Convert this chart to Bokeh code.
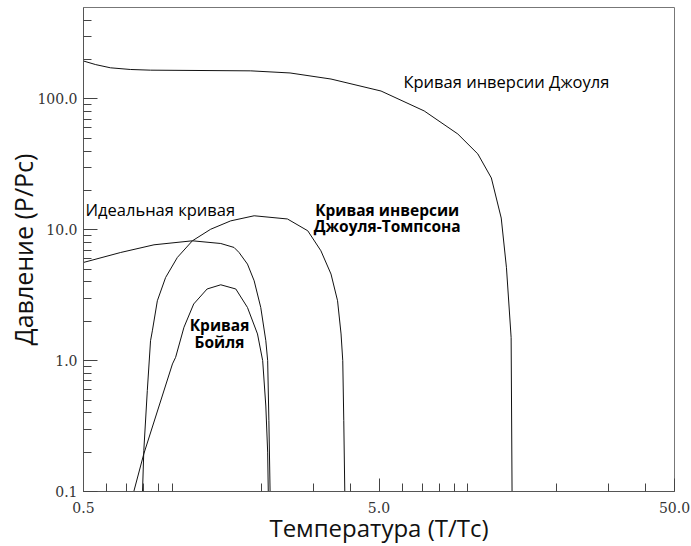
from bokeh.plotting import figure
from bokeh.models import FixedTicker, PrintfTickFormatter, ColumnDataSource
from bokeh.core.properties import value
from bokeh.embed import file_html
from bokeh.resources import INLINE

# ---- data (T/Tc, P/Pc) ----
joule_T = [0.5, 0.55, 0.617, 0.72, 0.843, 1.84, 2.5, 3.44, 5.08, 7.11, 9.24, 10.8, 12.0, 12.96, 13.5, 14.0, 14.1]
joule_P = [195, 183, 173, 168, 166, 164, 158, 142, 115, 81, 54, 38, 24.9, 12.3, 5.13, 1.5, 0.1]

jt_T = [0.792, 0.80, 0.822, 0.843, 0.855, 0.889, 0.948, 1.039, 1.168, 1.347, 1.574, 1.89, 2.45, 2.87, 3.18, 3.44, 3.62, 3.72, 3.77, 3.80, 3.83]
jt_P = [0.1, 0.206, 0.59, 1.42, 1.69, 2.87, 4.32, 6.15, 8.24, 10.1, 11.7, 12.8, 12.1, 9.83, 6.91, 4.59, 2.87, 1.60, 1.0, 0.348, 0.1]

ideal_T = [0.5, 0.668, 0.866, 1.168, 1.457, 1.616, 1.68, 1.794, 1.89, 1.99, 2.07, 2.10, 2.12, 2.14]
ideal_P = [5.63, 6.71, 7.68, 8.24, 7.86, 7.33, 6.71, 5.47, 4.08, 2.55, 1.42, 1.0, 0.35, 0.1]

boyle_T = [0.74, 0.80, 1.0, 1.025, 1.094, 1.18, 1.31, 1.457, 1.638, 1.794, 1.94, 2.02, 2.07, 2.10, 2.11]
boyle_P = [0.1, 0.194, 0.944, 1.06, 1.80, 2.71, 3.53, 3.80, 3.53, 2.55, 1.60, 1.0, 0.45, 0.2, 0.1]

x_major = [0.5, 5, 50]
x_minor = [0.6, 0.7, 0.8, 0.9, 1, 2, 3, 4, 6, 7, 8, 9, 10, 20, 30, 40]
y_major = [0.1, 1, 10, 100]
y_minor = [0.2, 0.3, 0.4, 0.5, 0.6, 0.7, 0.8, 0.9, 2, 3, 4, 5, 6, 7, 8, 9,
           20, 30, 40, 50, 60, 70, 80, 90, 200, 300, 400]

x_title = "Температура (T/Tc)"
y_title = "Давление (P/Pc)"

# annotations: text, T, P
plain_text = ["Кривая инверсии Джоуля", "Идеальная кривая"]
plain_T = [6.05, 0.508]
plain_P = [137.0, 14.4]
bold_text = ["Кривая инверсии", "Джоуля-Томпсона", "Кривая", "Бойля"]
bold_T = [5.33, 5.33, 1.443, 1.443]
bold_P = [14.13, 10.77, 1.863, 1.381]

p = figure(width=691, height=546, x_axis_type="log", y_axis_type="log",
           x_range=(0.5, 50), y_range=(0.1, 500),
           output_backend="svg", toolbar_location=None,
           min_border_left=83, min_border_right=17, min_border_top=7, min_border_bottom=55)

p.grid.visible = False
p.outline_line_color = "#777777"
p.background_fill_color = "white"
p.border_fill_color = "white"

p.xaxis.ticker = FixedTicker(ticks=x_major, minor_ticks=x_minor)
p.yaxis.ticker = FixedTicker(ticks=y_major, minor_ticks=y_minor)
for ax in (p.xaxis, p.yaxis):
    ax.formatter = PrintfTickFormatter(format="%.1f")
    ax.axis_line_color = "#555555"
    ax.major_tick_line_color = "#444444"
    ax.minor_tick_line_color = "#444444"
    ax.major_tick_out = 0
    ax.minor_tick_out = 0
    ax.minor_tick_in = 8
    ax.major_label_text_font = "DejaVu Serif"
    ax.major_label_text_font_size = "14px"
    ax.major_label_text_color = "#333333"
    ax.axis_label_text_font = "Open Sans"
    ax.axis_label_text_font_style = "normal"
    ax.axis_label_text_color = "#111111"
p.xaxis.major_tick_in = 13
p.yaxis.major_tick_in = 14
p.xaxis.major_label_standoff = 10
p.yaxis.major_label_standoff = 6

p.yaxis.axis_label = y_title
p.yaxis.axis_label_text_font_size = "25px"
p.yaxis.axis_label_standoff = -6
p.xaxis.axis_label = x_title
p.xaxis.axis_label_text_font_size = "24px"
p.xaxis.axis_label_standoff = -5

for T, P in ((joule_T, joule_P), (jt_T, jt_P), (ideal_T, ideal_P), (boyle_T, boyle_P)):
    p.line(T, P, line_color="#111111", line_width=1)

src_plain = ColumnDataSource(dict(x=plain_T, y=plain_P, t=plain_text))
p.text(x="x", y="y", text="t", source=src_plain, text_font=value("Open Sans"),
       text_font_size="16.5px", text_color="#000000", text_align="left",
       text_baseline="alphabetic")
src_bold = ColumnDataSource(dict(x=bold_T, y=bold_P, t=bold_text))
p.text(x="x", y="y", text="t", source=src_bold, text_font=value("Open Sans"),
       text_font_size="15.5px", text_font_style="bold", text_color="#000000",
       text_align="center", text_baseline="alphabetic")

open("out.html", "w").write(file_html(p, INLINE))
